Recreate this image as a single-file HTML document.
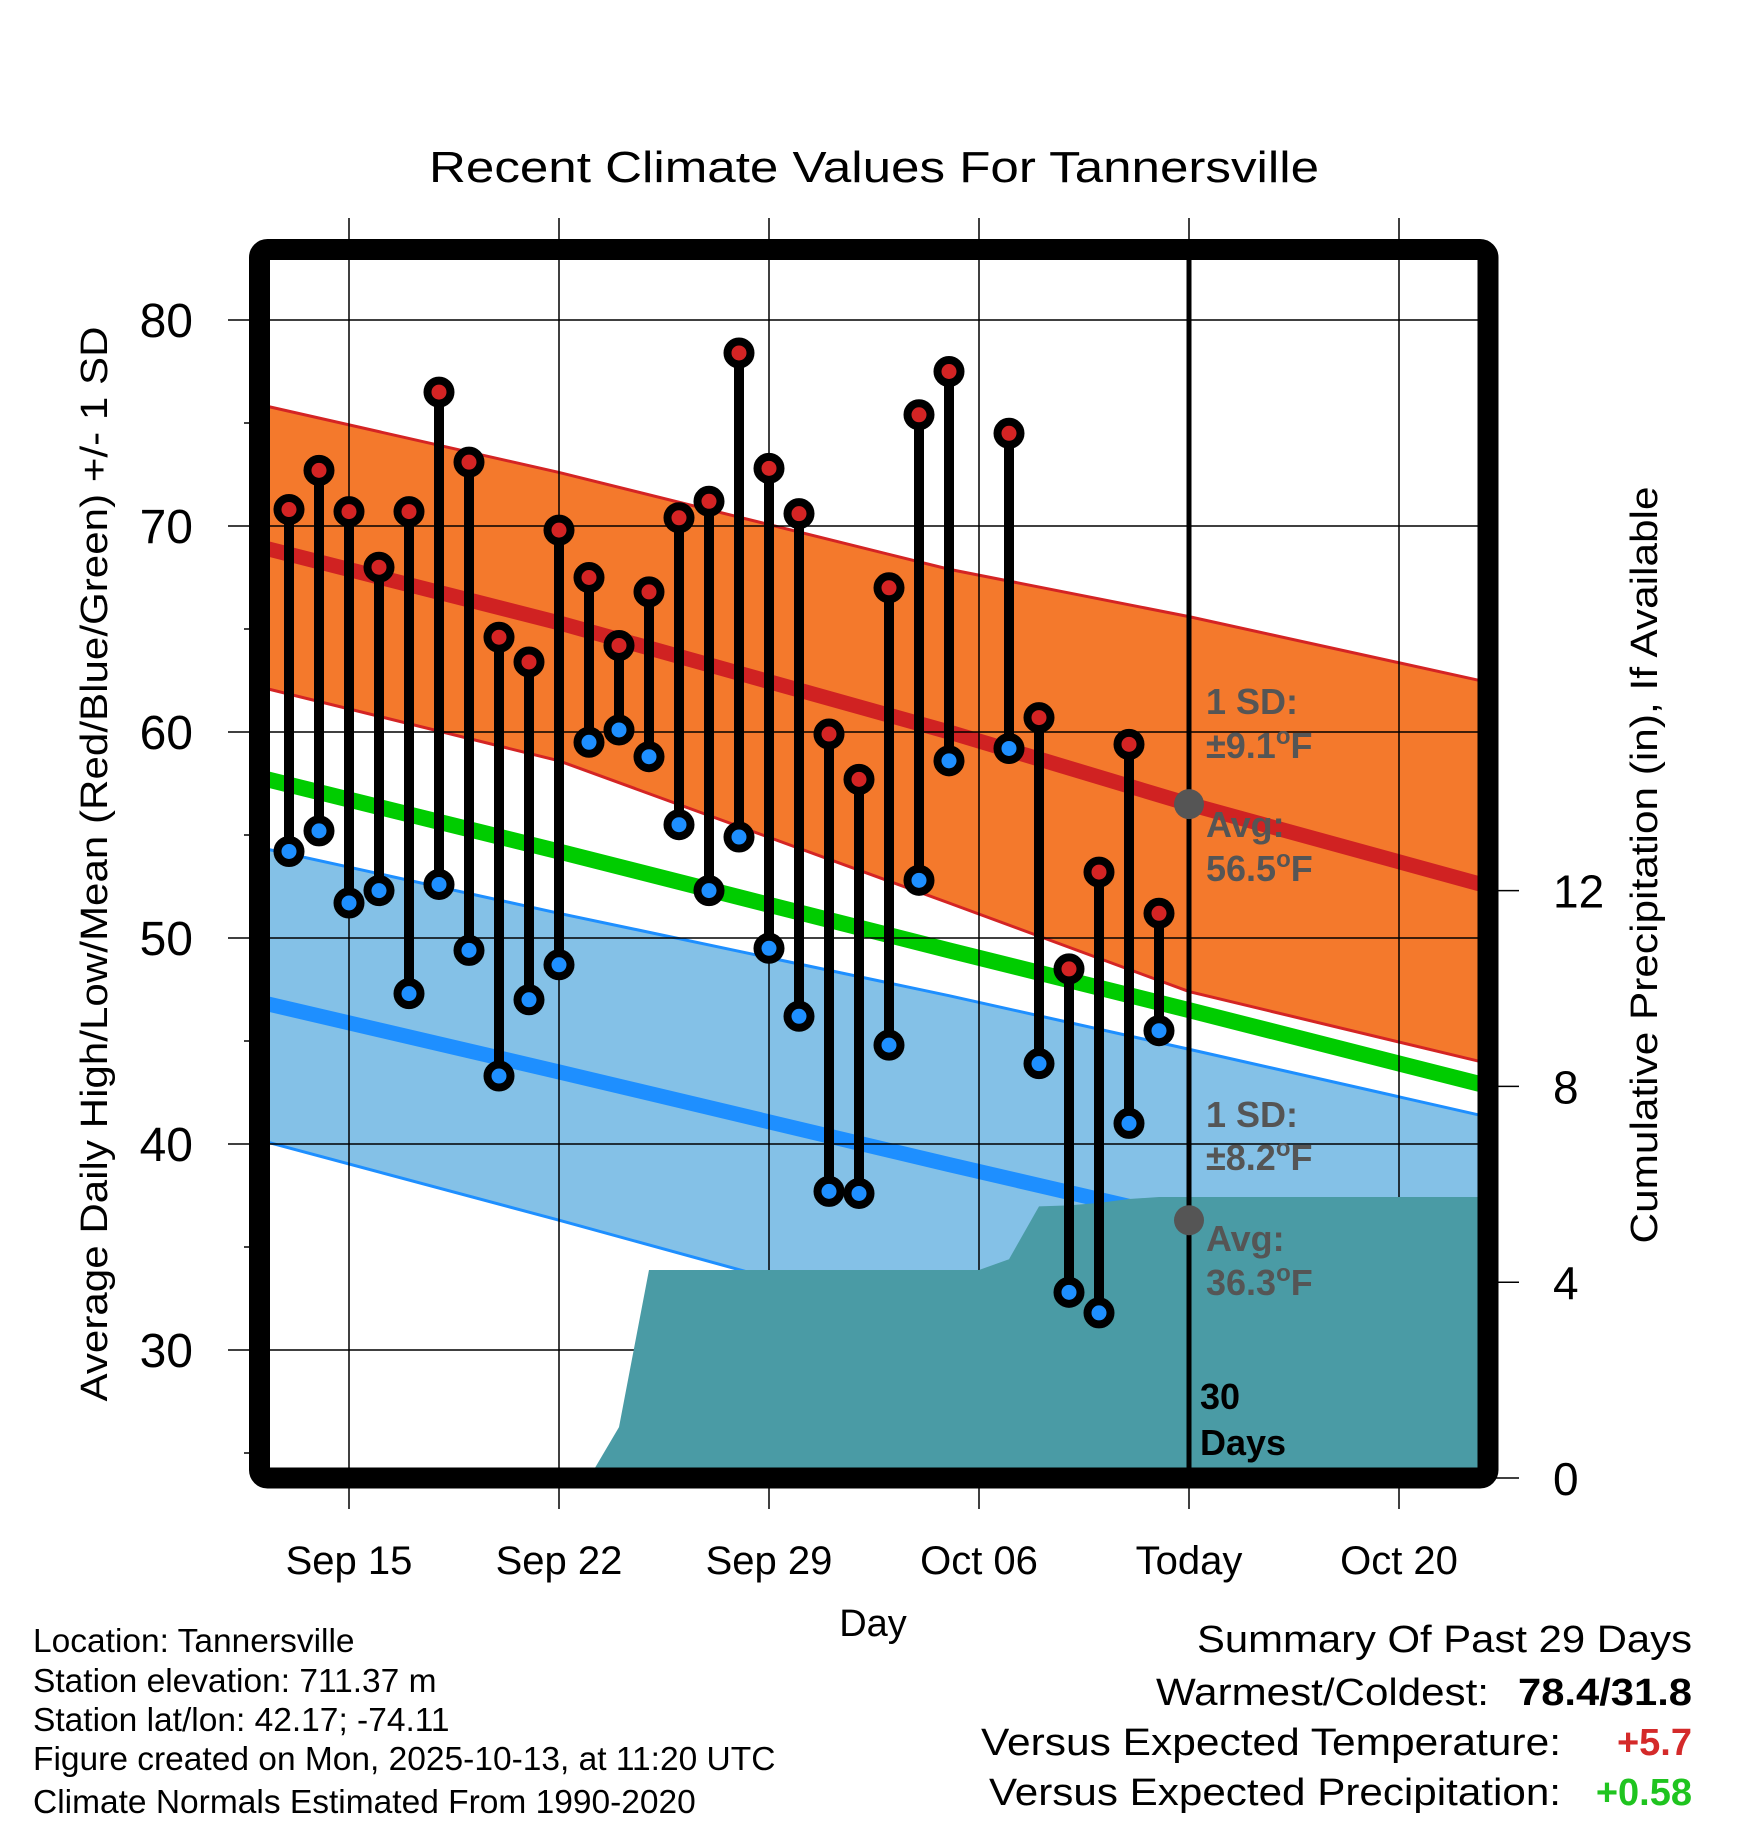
<!DOCTYPE html>
<html><head><meta charset="utf-8"><style>
html,body{margin:0;padding:0;background:#fff;}
svg{display:block;font-family:"Liberation Sans",Arial,sans-serif;}
</style></head><body>
<svg id="chart" width="1748" height="1828" viewBox="0 0 1748 1828" xmlns="http://www.w3.org/2000/svg">
<defs><clipPath id="plotclip"><rect x="270" y="260" width="1208" height="1208"/></clipPath></defs>
<g id="plot" clip-path="url(#plotclip)"></g>
<g id="overlay"></g>
<text x="874" y="182" font-size="44" text-anchor="middle" textLength="890" lengthAdjust="spacingAndGlyphs">Recent Climate Values For Tannersville</text>
<text transform="translate(107,864) rotate(-90)" font-size="38" text-anchor="middle" textLength="1075" lengthAdjust="spacingAndGlyphs">Average Daily High/Low/Mean (Red/Blue/Green) +/- 1 SD</text>
<text transform="translate(1657,865) rotate(-90)" font-size="38" text-anchor="middle" textLength="757" lengthAdjust="spacingAndGlyphs">Cumulative Precipitation (in), If Available</text>
<text x="873" y="1636" font-size="38" text-anchor="middle">Day</text>
<g font-size="33.5">
<text x="33" y="1652">Location: Tannersville</text>
<text x="33" y="1692">Station elevation: 711.37 m</text>
<text x="33" y="1731">Station lat/lon: 42.17; -74.11</text>
<text x="33" y="1770">Figure created on Mon, 2025-10-13, at 11:20 UTC</text>
<text x="33" y="1813">Climate Normals Estimated From 1990-2020</text>
</g>
<g font-size="38">
<text x="1692" y="1652" text-anchor="end" textLength="495" lengthAdjust="spacingAndGlyphs">Summary Of Past 29 Days</text>
<text x="1489" y="1705" text-anchor="end" textLength="333" lengthAdjust="spacingAndGlyphs">Warmest/Coldest:</text>
<text x="1692" y="1705" text-anchor="end" font-weight="bold" textLength="174" lengthAdjust="spacingAndGlyphs">78.4/31.8</text>
<text x="1561" y="1755" text-anchor="end" textLength="580" lengthAdjust="spacingAndGlyphs">Versus Expected Temperature:</text>
<text x="1692" y="1755" text-anchor="end" font-weight="bold" fill="#d42a2a">+5.7</text>
<text x="1561" y="1805" text-anchor="end" textLength="572" lengthAdjust="spacingAndGlyphs">Versus Expected Precipitation:</text>
<text x="1692" y="1805" text-anchor="end" font-weight="bold" fill="#1fc41f">+0.58</text>
</g>
</svg>
<script>
// ---- data ----
const dayIdx = [0,1,2,3,4,5,6,7,8,9,10,11,12,13,14,15,16,17,18,19,20,21,22,24,25,26,27,28,29];
const highs = [70.8,72.7,70.7,68.0,70.7,76.5,73.1,64.6,63.4,69.8,67.5,64.2,66.8,70.4,71.2,78.4,72.8,70.6,59.9,57.7,67.0,75.4,77.5,74.5,60.7,48.5,53.2,59.4,51.2];
const lows  = [54.2,55.2,51.7,52.3,47.3,52.6,49.4,43.3,47.0,48.7,59.5,60.1,58.8,55.5,52.3,54.9,49.5,46.2,37.7,37.6,44.8,52.8,58.6,59.2,43.9,32.8,31.8,41.0,45.5];
const normDays = [-1,9,22,30,40];
const highUpper = [75.9,72.6,67.9,65.6,62.4];
const highAvg = [69.0,65.3,60.0,56.5,52.5];
const highLower = [62.2,58.6,51.7,47.4,43.9];
const meanAvg = [57.8,54.2,49.4,46.5,42.8];
const lowUpper = [54.4,51.2,47.2,44.6,41.3];
const lowAvg = [46.9,43.5,39.0,36.3,32.9];
const lowLower = [40.2,36.3,31.1,28.1,24.5];
const precipDays = [0,10,11,12,23,24,25,26,27,28,29,40];
const precipVals = [0,0,1.04,4.25,4.25,4.47,5.55,5.57,5.62,5.70,5.74,5.74];
const yTicks = [30,40,50,60,70,80];
const yMinor = [25,35,45,55,65,75];
const pTicks = [0,4,8,12];
const xTickDays = [2,9,16,23,30,37];
const xTickLabels = ["Sep 15","Sep 22","Sep 29","Oct 06","Today","Oct 20"];

// ---- scales ----
const X = d => 289 + d*30;
const Y = v => 320 + (80 - v)*20.6;
const P = p => 1478 - p*48.95;
const NS = "http://www.w3.org/2000/svg";
const plot = document.getElementById('plot');
const ov = document.getElementById('overlay');
function mk(tag, attrs, parent){const e=document.createElementNS(NS,tag);for(const k in attrs)e.setAttribute(k,attrs[k]);parent.appendChild(e);return e;}
const pts = arr => normDays.map((d,i)=>X(d)+','+Y(arr[i]));

let e;
e = mk('polygon',{points:pts(highUpper).concat(pts(highLower).reverse()).join(' '),fill:'#f4792c'},plot);
 
e = mk('polygon',{points:pts(lowUpper).concat(pts(lowLower).reverse()).join(' '),fill:'#84c1e7'},plot);
 
[[highUpper,'#d42424',3,'high-upper-line'],[highLower,'#d42424',3,'high-lower-line'],[lowUpper,'#1e8fff',3,'low-upper-line'],[lowLower,'#1e8fff',3,'low-lower-line'],[highAvg,'#d02222',15,'high-avg-line'],[meanAvg,'#00cc00',16,'mean-avg-line'],[lowAvg,'#1e8fff',15,'low-avg-line']].forEach(s=>{
  e = mk('polyline',{points:pts(s[0]).join(' '),fill:'none',stroke:s[1],'stroke-width':s[2]},plot);
   
});
yTicks.forEach(v=>{
  e = mk('line',{x1:228,x2:1478,y1:Y(v),y2:Y(v),stroke:'#000','stroke-width':1.5},ov);
   
  e = mk('text',{x:193,y:Y(v)+17,'font-size':48,'text-anchor':'end'},ov); e.textContent=v;
   
});
yMinor.forEach(v=>{
  e = mk('line',{x1:244,x2:260,y1:Y(v),y2:Y(v),stroke:'#000','stroke-width':1.5},ov);
   
});
xTickDays.forEach((d,i)=>{
  e = mk('line',{x1:X(d),x2:X(d),y1:218,y2:1509,stroke:'#000','stroke-width':1.5},ov);
   
  e = mk('text',{x:X(d),y:1574,'font-size':40,'text-anchor':'middle'},ov); e.textContent=xTickLabels[i];
   
});
pTicks.forEach(p=>{
  e = mk('line',{x1:1488,x2:1519,y1:P(p),y2:P(p),stroke:'#000','stroke-width':1.5},ov);
   
  e = mk('text',{x:1553,y:P(p)+17,'font-size':46},ov); e.textContent=p;
   
});
const pp = precipDays.map((d,i)=>X(d)+','+P(precipVals[i]));
pp.push(X(40)+','+P(0)); pp.unshift(X(0)+','+P(0));
e = mk('polygon',{points:pp.join(' '),fill:'#4a9ba5','clip-path':'url(#plotclip)'},ov);
 
e = mk('line',{x1:X(30),x2:X(30),y1:260,y2:1468,stroke:'#000','stroke-width':5},ov);
 
dayIdx.forEach((d,i)=>{
  e = mk('line',{x1:X(d),x2:X(d),y1:Y(highs[i]),y2:Y(lows[i]),stroke:'#000','stroke-width':10},ov);
   
});
dayIdx.forEach((d,i)=>{
  e = mk('circle',{cx:X(d),cy:Y(highs[i]),r:11.5,fill:'#d42424',stroke:'#000','stroke-width':8},ov);
   
  e = mk('circle',{cx:X(d),cy:Y(lows[i]),r:11.5,fill:'#1e8fff',stroke:'#000','stroke-width':8},ov);
   
});
[highAvg[3],lowAvg[3]].forEach(v=>{
  e = mk('circle',{cx:X(30),cy:Y(v),r:15,fill:'#555'},ov);
   
});
function ann(txt,x,y,fill,name){
  const t = mk('text',{x:x,y:y,'font-size':36,'font-weight':'bold',fill:fill},ov);
  t.innerHTML = txt;
   
}
ann('1 SD:',1206,714,'#555','high-sd-label');
ann('±9.1<tspan dy="-14" font-size="24">o</tspan><tspan dy="14">F</tspan>',1206,758,'#555','high-sd-value');
ann('Avg:',1206,837,'#555','high-avg-label');
ann('56.5<tspan dy="-14" font-size="24">o</tspan><tspan dy="14">F</tspan>',1206,881,'#555','high-avg-value');
ann('1 SD:',1206,1127,'#555','low-sd-label');
ann('±8.2<tspan dy="-14" font-size="24">o</tspan><tspan dy="14">F</tspan>',1206,1170,'#555','low-sd-value');
ann('Avg:',1206,1251,'#555','low-avg-label');
ann('36.3<tspan dy="-14" font-size="24">o</tspan><tspan dy="14">F</tspan>',1206,1295,'#555','low-avg-value');
ann('30',1200,1409,'#000','days-count');
ann('Days',1200,1455,'#000','days-label');
e = mk('rect',{x:259.5,y:249.5,width:1228.5,height:1228.5,rx:8,fill:'none',stroke:'#000','stroke-width':21},ov);
 
</script>
</body></html>
